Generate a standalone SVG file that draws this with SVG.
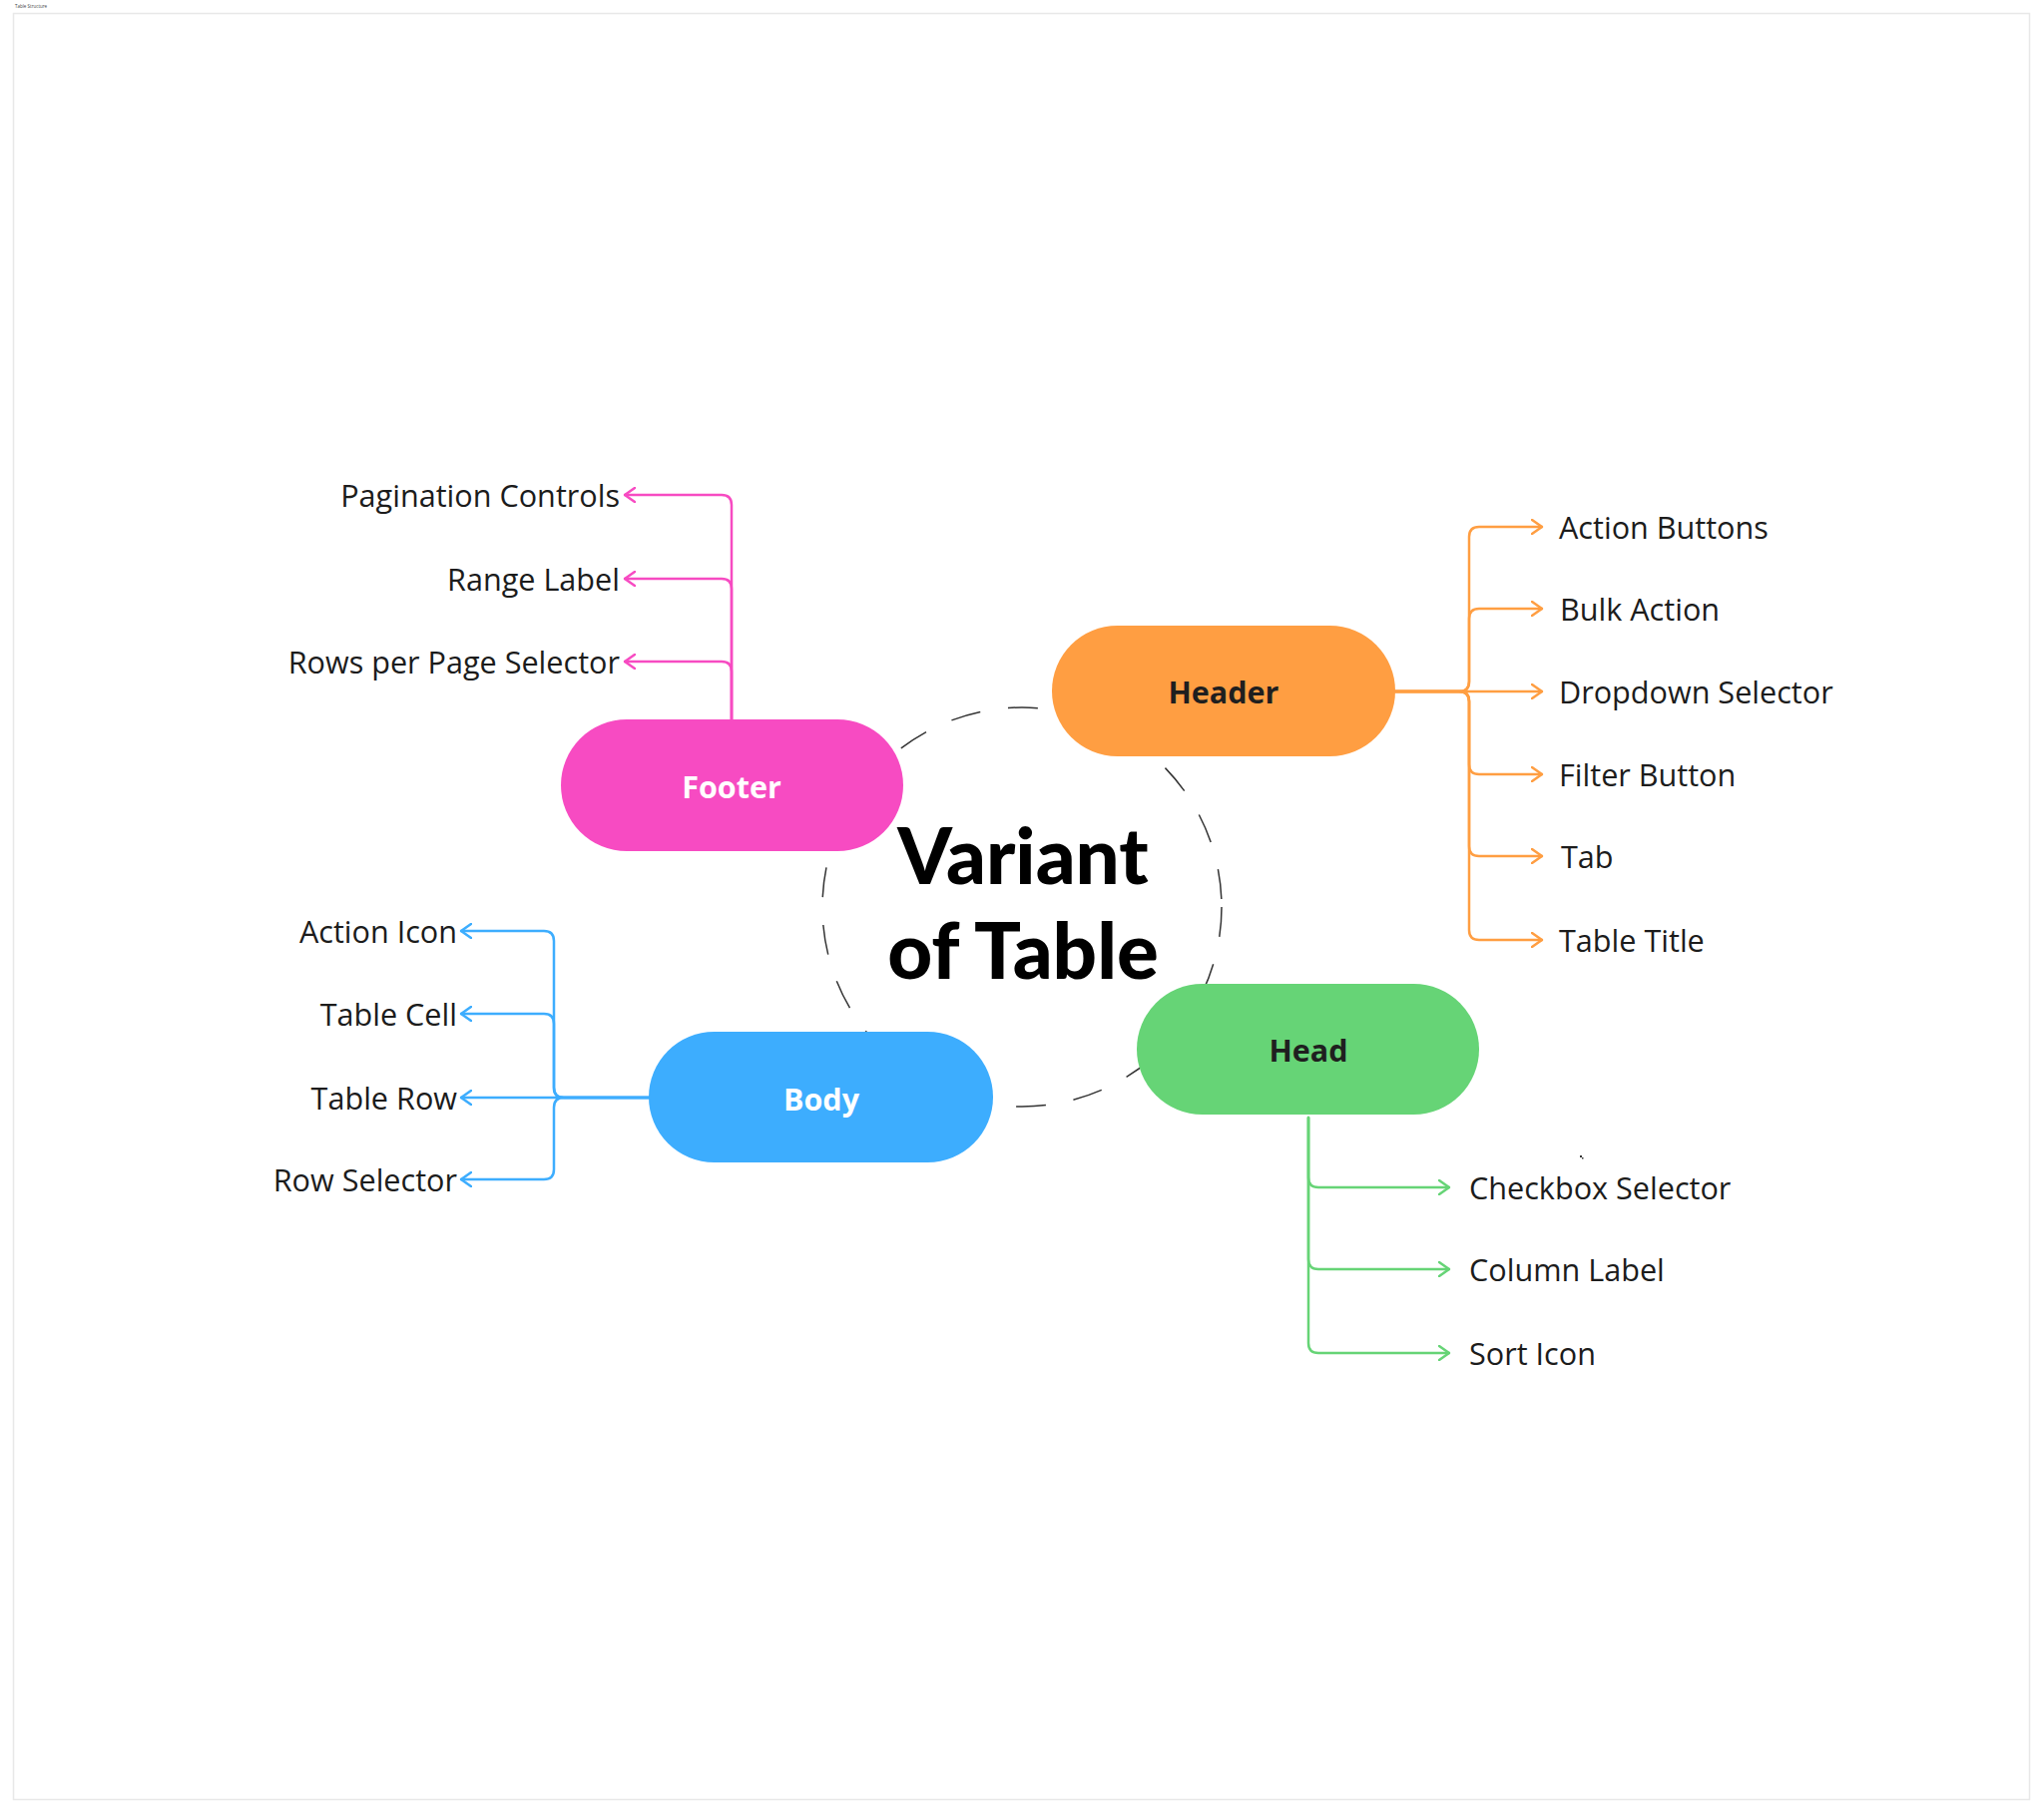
<svg xmlns="http://www.w3.org/2000/svg" width="2048" height="1818" viewBox="0 0 2048 1818">
<style>
.lbl{font-family:"Open Sans","Liberation Sans",sans-serif;font-size:30.6px;fill:#1c1c1c}
.pill-t{font-family:"Open Sans","Liberation Sans",sans-serif;font-size:30.5px;font-weight:700;text-anchor:middle}
.title{font-family:Lato,"Open Sans",sans-serif;font-size:78px;font-weight:900;fill:#000;text-anchor:middle}
.con{fill:none;stroke-width:2.5;stroke-linecap:round;stroke-linejoin:round}
.pink{stroke:#F74BC2}.orange{stroke:#FF9E42}.blue{stroke:#3DADFE}.green{stroke:#66D476}
</style>
<defs>
<marker id="aPink" viewBox="0 0 12 16" refX="11" refY="8" markerWidth="12" markerHeight="16" markerUnits="userSpaceOnUse" orient="auto"><path d="M1,1 L11,8 L1,15" fill="none" stroke="#F74BC2" stroke-width="2.5" stroke-linecap="round" stroke-linejoin="round"/></marker>
<marker id="aOrange" viewBox="0 0 12 16" refX="11" refY="8" markerWidth="12" markerHeight="16" markerUnits="userSpaceOnUse" orient="auto"><path d="M1,1 L11,8 L1,15" fill="none" stroke="#FF9E42" stroke-width="2.5" stroke-linecap="round" stroke-linejoin="round"/></marker>
<marker id="aBlue" viewBox="0 0 12 16" refX="11" refY="8" markerWidth="12" markerHeight="16" markerUnits="userSpaceOnUse" orient="auto"><path d="M1,1 L11,8 L1,15" fill="none" stroke="#3DADFE" stroke-width="2.5" stroke-linecap="round" stroke-linejoin="round"/></marker>
<marker id="aGreen" viewBox="0 0 12 16" refX="11" refY="8" markerWidth="12" markerHeight="16" markerUnits="userSpaceOnUse" orient="auto"><path d="M1,1 L11,8 L1,15" fill="none" stroke="#66D476" stroke-width="2.5" stroke-linecap="round" stroke-linejoin="round"/></marker>
</defs>
<rect width="2048" height="1818" fill="#fff"/>
<rect x="13.5" y="13.5" width="2020" height="1790" fill="#fff" stroke="#e8e8e8" stroke-width="1.5"/>
<text x="15" y="8" font-family="Open Sans, sans-serif" font-size="4.5" fill="#444">Table Structure</text>

<g id="center-circle">
<circle cx="1024" cy="909" r="200" fill="none" stroke="#333" stroke-width="1.5" stroke-dasharray="30 28"/>
</g>

<g id="connectors">
<path class="con pink" marker-end="url(#aPink)" d="M733 721 V506 Q733 496 723 496 H626"/>
<path class="con pink" marker-end="url(#aPink)" d="M733 721 V590 Q733 580 723 580 H626"/>
<path class="con pink" marker-end="url(#aPink)" d="M733 721 V673 Q733 663 723 663 H626"/>

<path class="con orange" marker-end="url(#aOrange)" d="M1398 693 H1462 Q1472 693 1472 683 V538 Q1472 528 1482 528 H1545"/>
<path class="con orange" marker-end="url(#aOrange)" d="M1398 693 H1462 Q1472 693 1472 683 V620 Q1472 610 1482 610 H1545"/>
<path class="con orange" marker-end="url(#aOrange)" d="M1398 693 H1545"/>
<path class="con orange" marker-end="url(#aOrange)" d="M1398 693 H1462 Q1472 693 1472 703 V766 Q1472 776 1482 776 H1545"/>
<path class="con orange" marker-end="url(#aOrange)" d="M1398 693 H1462 Q1472 693 1472 703 V848 Q1472 858 1482 858 H1545"/>
<path class="con orange" marker-end="url(#aOrange)" d="M1398 693 H1462 Q1472 693 1472 703 V932 Q1472 942 1482 942 H1545"/>

<path class="con blue" marker-end="url(#aBlue)" d="M650 1100 H565 Q555 1100 555 1090 V943 Q555 933 545 933 H462"/>
<path class="con blue" marker-end="url(#aBlue)" d="M650 1100 H565 Q555 1100 555 1090 V1026 Q555 1016 545 1016 H462"/>
<path class="con blue" marker-end="url(#aBlue)" d="M650 1100 H462"/>
<path class="con blue" marker-end="url(#aBlue)" d="M650 1100 H565 Q555 1100 555 1110 V1172 Q555 1182 545 1182 H462"/>

<path class="con green" marker-end="url(#aGreen)" d="M1311 1120 V1180 Q1311 1190 1321 1190 H1452"/>
<path class="con green" marker-end="url(#aGreen)" d="M1311 1120 V1262 Q1311 1272 1321 1272 H1452"/>
<path class="con green" marker-end="url(#aGreen)" d="M1311 1120 V1346 Q1311 1356 1321 1356 H1452"/>
</g>

<g id="title">
<text class="title" x="1025" y="886">Variant</text>
<text class="title" x="1025" y="981">of Table</text>
</g>

<g id="footer">
<rect x="562" y="721" width="343" height="132" rx="66" fill="#F74BC2"/>
<text class="pill-t" x="733" y="800" fill="#fff">Footer</text>
</g>
<g id="header">
<rect x="1054" y="627" width="344" height="131" rx="65.5" fill="#FF9E42"/>
<text class="pill-t" x="1226" y="705" fill="#1f1f1f">Header</text>
</g>
<g id="head">
<rect x="1139" y="986" width="343" height="131" rx="65.5" fill="#66D476"/>
<text class="pill-t" x="1311" y="1064" fill="#1f1f1f">Head</text>
</g>
<g id="body">
<rect x="650" y="1034" width="345" height="131" rx="65.5" fill="#3DADFE"/>
<text class="pill-t" x="823" y="1113" fill="#fff">Body</text>
</g>

<g id="footer-items" text-anchor="end">
<text class="lbl" x="621" y="508">Pagination Controls</text>
<text class="lbl" x="621" y="592">Range Label</text>
<text class="lbl" x="621" y="675">Rows per Page Selector</text>
</g>
<g id="header-items">
<text class="lbl" x="1562" y="540">Action Buttons</text>
<text class="lbl" x="1563" y="622">Bulk Action</text>
<text class="lbl" x="1562" y="705">Dropdown Selector</text>
<text class="lbl" x="1562" y="788">Filter Button</text>
<text class="lbl" x="1564" y="870">Tab</text>
<text class="lbl" x="1562" y="954">Table Title</text>
</g>
<g id="body-items" text-anchor="end">
<text class="lbl" x="458" y="945">Action Icon</text>
<text class="lbl" x="458" y="1028">Table Cell</text>
<text class="lbl" x="458" y="1112">Table Row</text>
<text class="lbl" x="458" y="1194">Row Selector</text>
</g>
<g id="head-items">
<text class="lbl" x="1472" y="1202">Checkbox Selector</text>
<text class="lbl" x="1472" y="1284">Column Label</text>
<text class="lbl" x="1472" y="1368">Sort Icon</text>
</g>
<g id="speck" fill="#333">
<rect x="1583" y="1158" width="2" height="2"/>
<rect x="1585" y="1160" width="1.5" height="1.5"/>
</g>
</svg>
